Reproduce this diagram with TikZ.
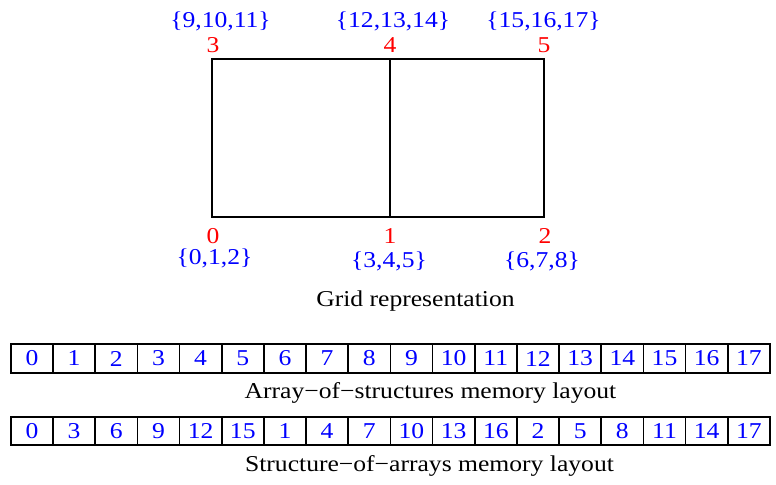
\documentclass[tikz,border=0pt]{standalone}
\usepackage{fontspec}
\setmainfont{Liberation Serif}[FakeStretch=1.13]
\begin{document}
\begin{tikzpicture}[x=0.75pt,y=-0.75pt,
  every node/.style={font=\fontsize{17}{19}\selectfont, inner sep=0pt},
  vid/.style={text=red},
  dof/.style={text=blue},
  captext/.style={text=black},
  cellbox/.style={draw=black, line width=1.3pt, minimum width=42.17*0.75pt, minimum height=28.5*0.75pt, text=blue, anchor=west},
  gridline/.style={draw=black, line width=1.3pt}
]
\useasboundingbox (0,0) rectangle (776,485);
% grid
\coordinate (p0) at (212,217);
\coordinate (p1) at (390,217);
\coordinate (p2) at (544,217);
\coordinate (p3) at (212,59);
\coordinate (p4) at (390,59);
\coordinate (p5) at (544,59);
\draw[gridline] (p0) -- (p2) -- (p5) -- (p3) -- cycle;
\draw[gridline] (p1) -- (p4);
% vertex ids
\node[vid] (v3) at (213,45) {3};
\node[vid] (v4) at (390,45) {4};
\node[vid] (v5) at (544,45) {5};
\node[vid] (v0) at (213,236) {0};
\node[vid] (v1) at (390,236) {1};
\node[vid] (v2) at (545,236) {2};
% dof sets
\node[dof] (d3) at (220.5,21) {\{9,10,11\}};
\node[dof] (d4) at (393,21) {\{12,13,14\}};
\node[dof] (d5) at (543.5,21) {\{15,16,17\}};
\node[dof] (d0) at (214.5,258) {\{0,1,2\}};
\node[dof] (d1) at (389,261) {\{3,4,5\}};
\node[dof] (d2) at (542,261) {\{6,7,8\}};
\node[captext] (gcap) at (415.5,301) {Grid representation};
% AoS
\foreach \v [count=\i from 0] in {0,1,...,17} {
  \node[cellbox] (a\i) at ({10+42.17*\i},358.5) {\v};
}
\node[captext] (acap) at (430.5,393) {Array−of−structures memory layout};
% SoA
\foreach \v [count=\i from 0] in {0,3,6,9,12,15,1,4,7,10,13,16,2,5,8,11,14,17} {
  \node[cellbox] (s\i) at ({10+42.17*\i},431) {\v};
}
\node[captext] (scap) at (429.5,466) {Structure−of−arrays memory layout};
\end{tikzpicture}
\end{document}
